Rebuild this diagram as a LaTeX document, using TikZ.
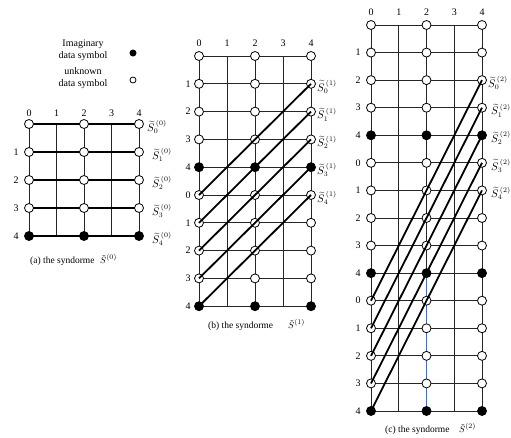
\documentclass[tikz,border=0pt]{standalone}
\usepackage{fontspec}
\setmainfont{Liberation Serif}
\begin{document}
\begin{tikzpicture}[x=1pt,y=-1pt,
  gridline/.style={line width=0.8pt, black!85},
  heavy/.style={line width=1.8pt, black},
  ocirc/.style={circle, draw, fill=white, line width=0.8pt, minimum size=9pt, inner sep=0pt},
  fcirc/.style={circle, draw, fill=black, line width=0.8pt, minimum size=9pt, inner sep=0pt},
  lbl/.style={font=\fontsize{10}{12}\selectfont, inner sep=0pt},
  captxt/.style={font=\fontsize{9.5}{11}\selectfont, inner sep=0pt, anchor=west},
  slbl/.style={font=\fontsize{10.5}{12}\selectfont, inner sep=0pt, anchor=west},
]
\useasboundingbox (0,0) rectangle (511,437);

% ---------------- legend ----------------
\node[lbl, align=center] (leg1) at (83,50) {Imaginary\\data symbol};
\node[circle, fill=black, minimum size=7pt, inner sep=0pt] (legdot1) at (133,53) {};
\node[lbl, align=center] (leg2) at (83,78) {unknown\\data symbol};
\node[circle, draw, fill=white, line width=0.8pt, minimum size=6pt, inner sep=0pt] (legdot2) at (133,80) {};

% ---------------- panel (a) ----------------
\foreach \r in {0,...,4}
  \foreach \c in {0,...,4}
    \coordinate (a-\r-\c) at ({29+27.5*\c},{124+28*\r});
\foreach \c in {0,...,4}
  \draw[gridline] (a-0-\c) -- (a-4-\c);
\foreach \r in {0,...,4}
  \draw[heavy] (a-\r-0) -- (a-\r-4);
\foreach \r in {0,...,3}
  \foreach \c in {0,2,4}
    \node[ocirc] (ca-\r-\c) at (a-\r-\c) {};
\foreach \c in {0,2,4}
  \node[fcirc] (ca-4-\c) at (a-4-\c) {};
\foreach \c in {0,...,4}
  \node[lbl] (acl-\c) at ({29+27.5*\c},113) {\c};
\foreach \r in {1,...,4}
  \node[lbl] (arl-\r) at (16,{124+28*\r}) {\r};
\node[slbl] (as-0) at (147,127) {$\widetilde{S}_{0}^{\,(0)}$};
\foreach \r in {1,...,4}
  \node[slbl] (as-\r) at (152,{127+28*\r}) {$\widetilde{S}_{\r}^{\,(0)}$};
\node[captxt] (acap) at (30,261) {(a) the syndorme};
\node[captxt] (acaps) at (100,259) {$\tilde{S}^{(0)}$};

% ---------------- panel (b) ----------------
\foreach \r in {0,...,9}
  \foreach \c in {0,...,4}
    \coordinate (b-\r-\c) at ({199+28*\c},{56+27.8*\r});
\foreach \c in {0,...,4}
  \draw[gridline] (b-0-\c) -- (b-9-\c);
\foreach \r in {0,...,9}
  \draw[gridline] (b-\r-0) -- (b-\r-4);
\foreach \r in {0,1,2,3,5,6,7,8}
  \foreach \c in {0,2,4}
    \node[ocirc] (cb-\r-\c) at (b-\r-\c) {};
\foreach \r in {4,9}
  \foreach \c in {0,2,4}
    \node[fcirc] (cb-\r-\c) at (b-\r-\c) {};
\foreach \k in {0,...,4}{
  \pgfmathtruncatemacro{\rs}{5+\k}
  \pgfmathtruncatemacro{\re}{1+\k}
  \draw[heavy] (b-\rs-0) -- (b-\re-4);
}
\foreach \c in {0,...,4}
  \node[lbl] (bcl-\c) at ({199+28*\c},43) {\c};
\foreach \r in {1,...,9}{
  \pgfmathtruncatemacro{\v}{mod(\r,5)}
  \node[lbl] (brl-\r) at (188,{56+27.8*\r}) {\v};
}
\foreach \k in {0,...,4}{
  \pgfmathtruncatemacro{\rr}{1+\k}
  \node[slbl] (bs-\k) at (317,{59+27.8*\rr}) {$\widetilde{S}_{\k}^{\,(1)}$};
}
\node[captxt] (bcap) at (208,326) {(b) the syndorme};
\node[captxt] (bcaps) at (288,324) {$\tilde{S}^{(1)}$};

% ---------------- panel (c) ----------------
\foreach \r in {0,...,14}
  \foreach \c in {0,...,4}
    \coordinate (c-\r-\c) at ({371+27.75*\c},{25+27.57*\r});
\foreach \c in {0,...,4}
  \draw[gridline] (c-0-\c) -- (c-14-\c);
\foreach \r in {0,...,14}
  \draw[gridline] (c-\r-0) -- (c-\r-4);
\draw[line width=0.8pt, color={rgb,255:red,70;green,110;blue,180}] (c-9-2) -- (c-14-2);
\foreach \r in {0,1,2,3,5,6,7,8,10,11,12,13}
  \foreach \c in {0,2,4}
    \node[ocirc] (cc-\r-\c) at (c-\r-\c) {};
\foreach \r in {4,9,14}
  \foreach \c in {0,2,4}
    \node[fcirc] (cc-\r-\c) at (c-\r-\c) {};
\foreach \k in {0,...,4}{
  \pgfmathtruncatemacro{\rs}{10+\k}
  \pgfmathtruncatemacro{\re}{2+\k}
  \draw[heavy] (c-\rs-0) -- (c-\re-4);
}
\foreach \c in {0,...,4}
  \node[lbl] (ccl-\c) at ({371+27.75*\c},12) {\c};
\foreach \r in {1,...,14}{
  \pgfmathtruncatemacro{\v}{mod(\r,5)}
  \node[lbl] (crl-\r) at (358,{25+27.57*\r}) {\v};
}
\node[slbl] (cs-0) at (488,{28+27.57*2}) {$\widetilde{S}_{0}^{\,(2)}$};
\foreach \k in {1,...,4}{
  \pgfmathtruncatemacro{\rr}{2+\k}
  \node[slbl] (cs-\k) at (491,{28+27.57*\rr}) {$\widetilde{S}_{\k}^{\,(2)}$};
}
\node[captxt] (ccap) at (385,430) {(c) the syndorme};
\node[captxt] (ccaps) at (459,428) {$\tilde{S}^{(2)}$};
\end{tikzpicture}
\end{document}
